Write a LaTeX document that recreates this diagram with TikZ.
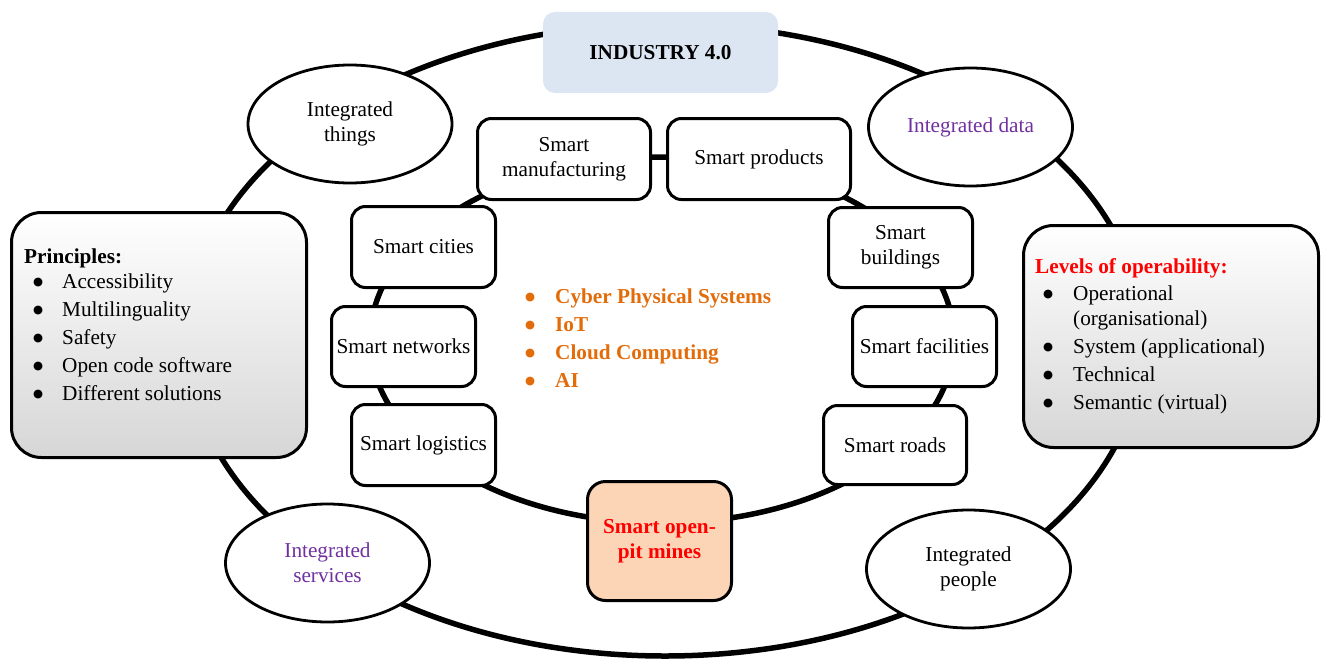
\documentclass[tikz,border=0pt]{standalone}
\usepackage{fontspec}
\setmainfont{Liberation Serif}
\newfontfamily\symfont{DejaVu Sans}
\usetikzlibrary{shapes.geometric}

\definecolor{hdrblue}{HTML}{DCE6F2}
\definecolor{minefill}{HTML}{FBD5B5}
\definecolor{purpletxt}{HTML}{7030A0}
\definecolor{orangetxt}{HTML}{E36C0A}
\definecolor{redtxt}{HTML}{FF0000}

% a round list bullet in a box of the given width
\newcommand{\bul}[1]{\makebox[#1][l]{\raisebox{2.6pt}{\fontsize{11.5}{12}\selectfont\symfont ●}}}

\begin{document}
\begin{tikzpicture}[x=1pt,y=-1pt,
  every node/.style={font=\fontsize{21.25}{25}\selectfont},
  ring/.style={line width=5.5pt},
  smartbox/.style={draw, line width=3pt, rounded corners=14pt, fill=white,
    align=center, inner sep=0pt, minimum width=144pt, minimum height=81pt},
  oval/.style={ellipse, draw, line width=2.8pt, fill=white, align=center,
    inner sep=0pt, minimum width=204pt, minimum height=118pt},
  panel/.style={draw, line width=3pt, rounded corners=30pt,
    top color=white, bottom color=black!16, inner sep=0pt,
    minimum width=295pt},
]
\useasboundingbox (0,0) rectangle (1321,661);

% the two rings
\draw[ring] (665,340) ellipse [x radius=478pt, y radius=316pt];
\draw[ring] (662,340) ellipse [x radius=292pt, y radius=183pt];

% title
\node[fill=hdrblue, rounded corners=12pt, minimum width=235pt, minimum height=81pt,
  inner sep=0pt, font=\fontsize{21.25}{25}\selectfont\bfseries] (ind) at (660.5,52.5) {INDUSTRY 4.0};

% integration ovals
\node[oval] (things) at (350,124) {Integrated\\things};
\node[oval, text=purpletxt] (data) at (970.5,127) {Integrated data};
\node[oval, text=purpletxt] (services) at (327.5,563) {Integrated\\services};
\node[oval] (people) at (968.5,569) {Integrated\\people};

% inner ring of smart domains
\node[smartbox, minimum width=173pt] (manuf) at (564,159) {Smart\\manufacturing};
\node[smartbox, minimum width=183pt] (prod) at (759,159) {Smart products};
\node[smartbox] (cities) at (423.5,247) {Smart cities};
\node[smartbox, minimum height=80pt] (netw) at (403.5,346.5) {Smart networks};
\node[smartbox] (logi) at (423.5,445) {Smart logistics};
\node[smartbox, minimum height=80pt] (build) at (900.5,247.5) {Smart\\buildings};
\node[smartbox, minimum height=80pt] (facil) at (924.5,346.5) {Smart facilities};
\node[smartbox, minimum width=143pt, minimum height=79pt] (roads) at (895,445) {Smart roads};
\node[smartbox, fill=minefill, rounded corners=18pt, minimum height=119pt,
  text=redtxt, font=\fontsize{21.25}{25}\selectfont\bfseries] (mines) at (659.5,541) {Smart open-\\pit mines};

% side panels
\node[panel, minimum height=245pt] (princ) at (159,335) {};
\node[panel, minimum height=222pt] (levels) at (1171,336.5) {};

\node[anchor=base west, inner sep=0pt] (princtxt) at (24,263) {%
  \begin{tabular}[t]{@{}l@{}l@{}}
  \multicolumn{2}{@{}l@{}}{\textbf{Principles:}}\\
  \hspace{9pt}\bul{29pt} & Accessibility\\[3pt]
  \hspace{9pt}\bul{29pt} & Multilinguality\\[3pt]
  \hspace{9pt}\bul{29pt} & Safety\\[3pt]
  \hspace{9pt}\bul{29pt} & Open code software\\[3pt]
  \hspace{9pt}\bul{29pt} & Different solutions
  \end{tabular}};

\node[anchor=base west, inner sep=0pt] (levtxt) at (1035,273) {%
  \begin{tabular}[t]{@{}l@{}l@{}}
  \multicolumn{2}{@{}l@{}}{\textcolor{redtxt}{\textbf{Levels of operability:}}}\\[2pt]
  \hspace{8pt}\bul{30pt} & Operational\\
   & (organisational)\\[3pt]
  \hspace{8pt}\bul{30pt} & System (applicational)\\[3pt]
  \hspace{8pt}\bul{30pt} & Technical\\[3pt]
  \hspace{8pt}\bul{30pt} & Semantic (virtual)
  \end{tabular}};

% core technologies
\node[anchor=base west, inner sep=0pt, text=orangetxt,
  font=\fontsize{21.25}{28}\selectfont\bfseries] (tech) at (525,303) {%
  \begin{tabular}[t]{@{}l@{}l@{}}
  \bul{30pt} & Cyber Physical Systems\\
  \bul{30pt} & IoT\\
  \bul{30pt} & Cloud Computing\\
  \bul{30pt} & AI
  \end{tabular}};
\end{tikzpicture}
\end{document}
